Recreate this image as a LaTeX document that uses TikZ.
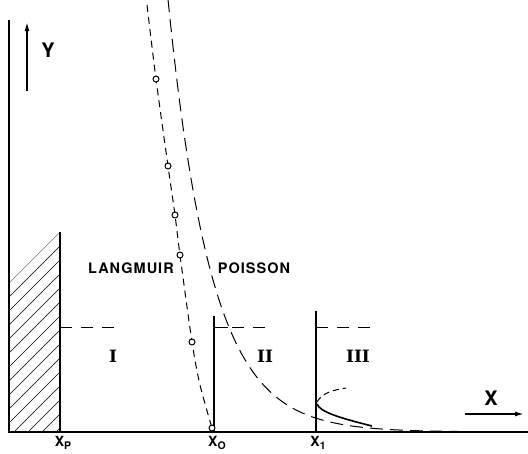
\documentclass[tikz,border=0pt]{standalone}
\usepackage{fontspec}
\setsansfont{TeX Gyre Heros}
\newfontfamily\labfont[LetterSpace=7]{TeX Gyre Heros}
\newfontfamily\romfont{DejaVu Serif}
\newcommand{\mysub}[1]{\raisebox{-3.5pt}{\fontsize{10.5}{10.5}\selectfont #1}}
\usetikzlibrary{arrows.meta}
\begin{document}
\begin{tikzpicture}[x=1pt,y=-1pt,
 axis/.style={line width=1.3pt},
 wall/.style={line width=1.4pt},
 lab/.style={font=\sffamily\bfseries\fontsize{14}{14}\selectfont, inner sep=0pt},
 wordlab/.style={font=\labfont\bfseries\fontsize{14.5}{15}\selectfont, inner sep=0pt},
 biglab/.style={font=\sffamily\bfseries\fontsize{20}{20}\selectfont, inner sep=0pt},
 roman/.style={font=\romfont\bfseries\fontsize{17}{17}\selectfont, inner sep=0pt},
 ldash/.style={dash pattern=on 7pt off 5pt, line width=1pt},
 pdash/.style={dash pattern=on 13pt off 7pt, line width=1pt},
 hdash/.style={dash pattern=on 12pt off 9pt, line width=0.9pt},
 dot/.style={circle, draw, line width=1pt, inner sep=0pt, minimum size=6pt, fill=white},
 arr/.style={line width=1.5pt, -{Latex[length=9pt,width=5pt]}}]
\useasboundingbox (0,0) rectangle (528,453);
% hatched wall
\begin{scope}
\clip (9,283) -- (60,232) -- (60,432) -- (9,432) -- cycle;
\foreach \c in {283,297,...,500}{
  \draw[line width=0.5pt] (9,\c) -- (60,\c-51);
}
\end{scope}
% axes
\coordinate (o) at (9,432);
\coordinate (top) at (9,20);
\coordinate (xend) at (528,432);
\draw[axis] (top) -- (o) -- (xend);
% walls
\coordinate (xp) at (60,432);
\coordinate (xpt) at (60,232);
\draw[wall] (xp) -- (xpt);
\coordinate (x0) at (214,432);
\coordinate (x0t) at (214,316);
\draw[wall] (x0) -- (x0t);
\coordinate (x1) at (316,432);
\coordinate (x1t) at (316,311);
\draw[wall] (x1) -- (x1t);
% horizontal levels
\draw[hdash] (60,327) -- (118,327);
\draw[line width=0.9pt] (214,327) -- (228,327);
\draw[hdash] (232,327) -- (273,327);
\draw[hdash] (316,327) -- (374,327);
% Langmuir curve
\draw[ldash] plot[smooth, tension=0.5] coordinates {(147,5) (156,79) (168,166) (175,215) (180,255) (192,342) (200,385) (212,428)};
\foreach \p/\n in {{(156,79)}/c1,{(168,166)}/c2,{(175,215)}/c3,{(180,255)}/c4,{(192,342)}/c5,{(212,428)}/c6}{
  \node[dot] (\n) at \p {};
}
% Poisson curve
\draw[pdash] plot[domain=168:460, samples=120] (\x, {432-152*exp(-(\x-213)/43)});
% branch near x1
\draw[dash pattern=on 6pt off 4pt, line width=1pt] (317,402) .. controls (322,393) and (333,390) .. (346,388);
\draw[line width=1.6pt] (317,404) .. controls (320,412) and (340,418) .. (372,426);
% labels
\node[lab] (lp) at (63,443) {X\mysub{P}};
\node[lab] (l0) at (217,443) {X\mysub{O}};
\node[lab] (l1) at (318,443) {X\mysub{1}};
\node[wordlab] (lang) at (131,268) {LANGMUIR};
\node[wordlab] (pois) at (254,268) {POISSON};
\node[roman] (r1) at (113,356) {I};
\node[roman] (r2) at (265,356) {II};
\node[roman] (r3) at (358,356) {III};
% Y arrow
\coordinate (ya) at (27,91);
\coordinate (yb) at (27,22);
\draw[arr] (ya) -- (yb);
\node[biglab] (ylab) at (48,50) {Y};
% X arrow
\coordinate (xa) at (465,414);
\coordinate (xb) at (524,414);
\draw[arr] (xa) -- (xb);
\node[biglab] (xlab) at (491,398) {X};
\end{tikzpicture}
\end{document}
